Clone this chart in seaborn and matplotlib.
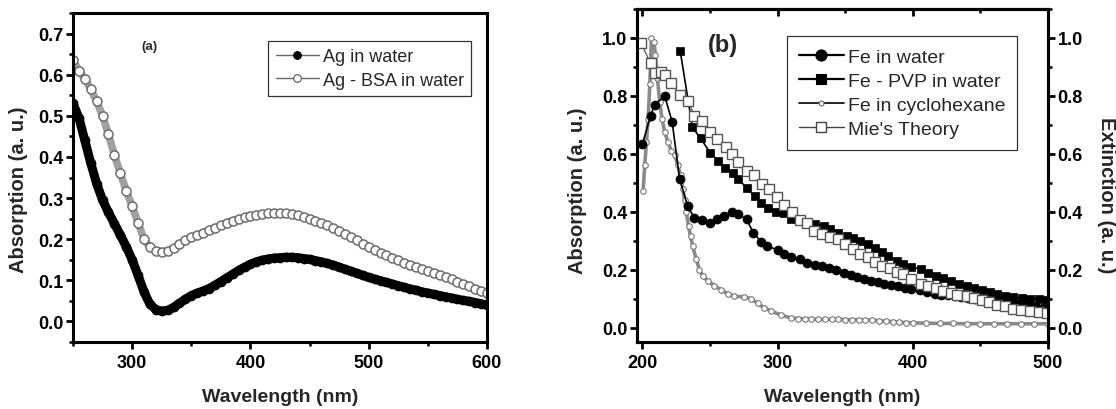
import numpy as np
import seaborn as sns
import matplotlib.pyplot as plt
from matplotlib.lines import Line2D
from matplotlib.ticker import MultipleLocator

# ---- panel (a): Ag spectra, read every 5 nm ----
ag_wl = np.arange(250, 601, 5)
ag_water = [0.530, 0.495, 0.440, 0.385, 0.335, 0.295, 0.265, 0.238, 0.210, 0.182,
            0.150, 0.112, 0.072, 0.042, 0.029, 0.025, 0.027, 0.034, 0.044, 0.054,
            0.063, 0.069, 0.074, 0.080, 0.088, 0.097, 0.106, 0.115, 0.124, 0.132,
            0.139, 0.145, 0.149, 0.152, 0.154, 0.155, 0.156, 0.156, 0.155, 0.153,
            0.151, 0.148, 0.145, 0.141, 0.137, 0.132, 0.127, 0.122, 0.117, 0.112,
            0.107, 0.103, 0.099, 0.095, 0.091, 0.087, 0.083, 0.079, 0.076, 0.072,
            0.069, 0.066, 0.063, 0.060, 0.057, 0.054, 0.051, 0.049, 0.046, 0.043,
            0.040]
ag_bsa = [0.635, 0.610, 0.590, 0.565, 0.535, 0.500, 0.455, 0.405, 0.360, 0.318,
          0.280, 0.240, 0.200, 0.180, 0.172, 0.170, 0.172, 0.178, 0.188, 0.198,
          0.205, 0.210, 0.216, 0.222, 0.228, 0.234, 0.240, 0.245, 0.249, 0.253,
          0.256, 0.259, 0.261, 0.263, 0.264, 0.264, 0.263, 0.261, 0.258, 0.254,
          0.250, 0.245, 0.240, 0.234, 0.228, 0.221, 0.213, 0.205, 0.197, 0.189,
          0.181, 0.174, 0.167, 0.161, 0.155, 0.149, 0.143, 0.138, 0.133, 0.128,
          0.123, 0.118, 0.113, 0.107, 0.102, 0.096, 0.091, 0.085, 0.080, 0.074,
          0.069]

# ---- panel (b): Fe spectra ----
fe_water_wl = [200, 206, 209, 216.5, 222, 227.5, 233.5, 238.5, 244, 250,
               255, 260.5, 266, 271, 277, 282, 288, 292.5, 300, 305,
               310, 316.5, 322, 327.5, 333, 338, 343, 349, 354, 359,
               364, 369, 374, 378.5, 384, 389, 394, 399, 405.5, 410.5,
               416.5, 421, 426, 431, 436, 441, 446, 451, 456, 461,
               466, 471, 476, 481, 486, 491, 496]
fe_water = [0.633, 0.731, 0.768, 0.800, 0.710, 0.514, 0.418, 0.379, 0.370, 0.362,
            0.376, 0.385, 0.399, 0.391, 0.374, 0.328, 0.295, 0.281, 0.268, 0.253,
            0.245, 0.235, 0.224, 0.216, 0.212, 0.206, 0.197, 0.189, 0.181, 0.174,
            0.168, 0.162, 0.157, 0.152, 0.147, 0.142, 0.137, 0.132, 0.128, 0.123,
            0.117, 0.114, 0.111, 0.108, 0.105, 0.102, 0.099, 0.096, 0.093, 0.090,
            0.087, 0.084, 0.081, 0.078, 0.075, 0.071, 0.068]

fe_pvp_wl = [228, 237, 243, 250, 256, 261, 267, 271, 277, 283,
             288, 293, 299, 305, 310, 316, 322, 328, 334, 339,
             345, 351, 356, 361, 367, 372, 377, 382, 388, 393,
             399, 406, 411, 417, 422, 428, 434, 440, 445, 451,
             457, 462, 468, 474, 481, 487, 493, 499]
fe_pvp = [0.954, 0.691, 0.654, 0.604, 0.576, 0.550, 0.533, 0.514, 0.481, 0.454,
          0.431, 0.414, 0.399, 0.397, 0.376, 0.370, 0.362, 0.356, 0.352, 0.340,
          0.325, 0.317, 0.309, 0.299, 0.288, 0.273, 0.260, 0.248, 0.231, 0.220,
          0.210, 0.201, 0.190, 0.178, 0.171, 0.162, 0.151, 0.142, 0.136, 0.130,
          0.122, 0.116, 0.108, 0.104, 0.102, 0.100, 0.097, 0.095]

fe_cyc_wl = [200.5, 201.7, 203, 204.2, 205.5, 206.7, 208.6, 209.6, 211.1, 212.8,
             214.5, 216.5, 218.9, 221.4, 223.8, 226.3, 228.2, 229.9, 231.2, 232.4,
             234.1, 235.6, 237.3, 239.8, 242.2, 244.7, 248.4, 253.3, 258.2, 263.2,
             268.1, 275.5, 280.4, 285.3, 290.2, 295.2, 302.5, 309.9, 315, 320,
             325, 330, 335, 340, 345, 350, 355, 360, 365, 370,
             375, 380, 385, 390, 395, 400, 410, 420, 430, 440,
             450, 460, 470, 480, 490, 500]
fe_cyc = [0.47, 0.56, 0.64, 0.72, 0.84, 1.00, 0.985, 0.94, 0.86, 0.78,
          0.72, 0.675, 0.64, 0.61, 0.595, 0.56, 0.525, 0.48, 0.44, 0.40,
          0.35, 0.315, 0.28, 0.235, 0.20, 0.178, 0.16, 0.145, 0.13, 0.116,
          0.108, 0.106, 0.099, 0.083, 0.068, 0.057, 0.043, 0.033, 0.031, 0.030,
          0.029, 0.028, 0.028, 0.028, 0.028, 0.027, 0.027, 0.026, 0.026, 0.025,
          0.024, 0.022, 0.020, 0.018, 0.017, 0.016, 0.015, 0.014, 0.014, 0.013,
          0.013, 0.013, 0.013, 0.013, 0.013, 0.013]

mie_wl = [199, 206, 209, 213.5, 217, 221.5, 228, 234, 238.5, 244,
          250, 255.5, 261.5, 266.5, 271, 277, 282.5, 288.5, 294, 299.5,
          305, 310.5, 316.5, 322, 327, 333, 339, 345, 350, 356,
          361, 367, 372, 377, 383, 388, 393, 399, 406, 411,
          417, 422, 428, 433, 440, 445, 451, 456, 462, 468,
          474, 480, 487, 493, 499]
mie = [0.983, 0.912, 0.879, 0.882, 0.872, 0.844, 0.803, 0.783, 0.731, 0.714,
       0.674, 0.651, 0.624, 0.599, 0.570, 0.541, 0.526, 0.495, 0.478, 0.451,
       0.422, 0.399, 0.370, 0.360, 0.333, 0.322, 0.313, 0.305, 0.288, 0.270,
       0.255, 0.244, 0.227, 0.212, 0.204, 0.193, 0.186, 0.168, 0.151, 0.143,
       0.137, 0.125, 0.119, 0.114, 0.108, 0.102, 0.096, 0.088, 0.079, 0.073,
       0.065, 0.061, 0.056, 0.053, 0.050]

sns.set_theme(style='ticks')
plt.rcParams['font.family'] = ['Liberation Sans', 'DejaVu Sans']
plt.rcParams['axes.edgecolor'] = 'black'
plt.rcParams['xtick.color'] = 'black'
plt.rcParams['ytick.color'] = 'black'


def style_axis(ax, lw=2.2):
    for sp in ax.spines.values():
        sp.set_visible(True)
        sp.set_linewidth(lw)
        sp.set_color('black')
    ax.tick_params(which='major', length=5, width=2, direction='out',
                   labelsize=13, pad=2)
    ax.tick_params(which='minor', length=3, width=1.8, direction='out')
    for lab in ax.get_xticklabels() + ax.get_yticklabels():
        lab.set_fontweight('bold')


def key(line_color, lw, marker, ms, mfc, mec, mew=0.8):
    # legend sample only: style, no data
    return Line2D([], [], color=line_color, linewidth=lw, marker=marker,
                  markersize=ms, markerfacecolor=mfc, markeredgecolor=mec,
                  markeredgewidth=mew)


fig = plt.figure(figsize=(11.16, 4.10), dpi=100)
ax1 = fig.add_axes([73 / 1116, 67 / 410, 414 / 1116, 329 / 410])
ax2 = fig.add_axes([637 / 1116, 67 / 410, 411 / 1116, 333 / 410])

# panel (a): dense markers drawn over a wide line so the trace reads as a band
sns.lineplot(x=ag_wl, y=ag_bsa, ax=ax1, color='#a0a0a0', linewidth=5.5,
             marker='o', markersize=6.5, markerfacecolor='white',
             markeredgecolor='#6e6e6e', markeredgewidth=1.1,
             legend=False, errorbar=None)
sns.lineplot(x=ag_wl, y=ag_water, ax=ax1, color='black', linewidth=6.5,
             marker='o', markersize=6.5, markerfacecolor='black',
             markeredgecolor='black', markeredgewidth=0.5,
             legend=False, errorbar=None)
ax1.set_xlim(250, 600)
ax1.set_ylim(-0.05, 0.75)
ax1.set_xticks([300, 400, 500, 600])
ax1.xaxis.set_minor_locator(MultipleLocator(50))
ax1.yaxis.set_major_locator(MultipleLocator(0.1))
ax1.yaxis.set_minor_locator(MultipleLocator(0.05))
ax1.yaxis.set_major_formatter(plt.FormatStrFormatter('%.1f'))
style_axis(ax1)
ax1.tick_params(axis='x', pad=4)
ax1.set_xlabel('Wavelength (nm)', fontsize=14, fontweight='bold', labelpad=12)
ax1.set_ylabel('Absorption (a. u.)', fontsize=14.5, fontweight='bold')
ax1.yaxis.set_label_coords(-0.109, 0.465)
ax1.text(0.184, 0.90, '(a)', transform=ax1.transAxes, fontsize=9.5,
         fontweight='bold', ha='center', va='center')
keys_a = [key('#666666', 1.0, 'o', 5.5, 'black', 'black'),
          key('#666666', 1.0, 'o', 5.5, 'white', '#555555')]
leg1 = ax1.legend(keys_a, ['Ag in water', 'Ag - BSA in water'],
                  loc='upper right', bbox_to_anchor=(0.961, 0.915),
                  fontsize=13, frameon=True, fancybox=False, framealpha=1,
                  edgecolor='#333333', handlelength=2.4, handletextpad=0.2,
                  labelspacing=0.35, borderpad=0.4, borderaxespad=0)
leg1.get_frame().set_linewidth(0.9)

# panel (b)
ax3 = ax2.twinx()
sns.lineplot(x=fe_cyc_wl, y=fe_cyc, ax=ax2, color='#8a8a8a', linewidth=2.6,
             marker='o', markersize=4, markerfacecolor='white',
             markeredgecolor='#777777', markeredgewidth=0.8,
             legend=False, errorbar=None)
sns.lineplot(x=fe_pvp_wl, y=fe_pvp, ax=ax2, color='black', linewidth=1.2,
             marker='s', markersize=6, markerfacecolor='black',
             markeredgecolor='black', markeredgewidth=0.5,
             legend=False, errorbar=None)
sns.lineplot(x=fe_water_wl, y=fe_water, ax=ax2, color='black', linewidth=1.2,
             marker='o', markersize=6.5, markerfacecolor='black',
             markeredgecolor='black', markeredgewidth=0.5,
             legend=False, errorbar=None)
sns.lineplot(x=mie_wl, y=mie, ax=ax3, color='#555555', linewidth=0.9,
             marker='s', markersize=6.5, markerfacecolor='white',
             markeredgecolor='#555555', markeredgewidth=1.0,
             legend=False, errorbar=None)

for ax in (ax2, ax3):
    ax.set_xlim(196, 500)
    ax.set_ylim(-0.05, 1.1)
    ax.yaxis.set_major_locator(MultipleLocator(0.2))
    ax.yaxis.set_minor_locator(MultipleLocator(0.1))
    ax.yaxis.set_major_formatter(plt.FormatStrFormatter('%.1f'))
ax2.set_xticks([200, 300, 400, 500])
ax2.xaxis.set_minor_locator(MultipleLocator(50))
style_axis(ax2)
style_axis(ax3)
ax2.tick_params(axis='x', pad=4)

# inward ticks along the top edge
top = ax2.secondary_xaxis('top')
top.set_xticks([200, 300, 400, 500])
top.xaxis.set_minor_locator(MultipleLocator(50))
top.tick_params(which='major', direction='in', length=5, width=2,
                labeltop=False)
top.tick_params(which='minor', direction='in', length=3, width=1.8)
top.spines['top'].set_linewidth(2.2)

ax2.set_xlabel('Wavelength (nm)', fontsize=14, fontweight='bold', labelpad=12)
ax2.set_ylabel('Absorption (a. u.)', fontsize=14.5, fontweight='bold')
ax2.yaxis.set_label_coords(-0.122, 0.456)
ax3.set_ylabel('Extinction (a. u.)', fontsize=14.5, fontweight='bold',
               rotation=270, va='bottom')
ax3.yaxis.set_label_coords(1.119, 0.444)
ax2.text(0.209, 0.892, '(b)', transform=ax2.transAxes, fontsize=17,
         fontweight='bold', ha='center', va='center')

keys_b = [key('black', 1.6, 'o', 8, 'black', 'black'),
          key('black', 1.6, 's', 7, 'black', 'black'),
          key('black', 1.2, 'o', 3.5, 'white', '#666666'),
          key('#444444', 1.0, 's', 7, 'white', '#444444', 1.0)]
leg2 = ax3.legend(keys_b, ['Fe in water', 'Fe - PVP in water',
                           'Fe in cyclohexane', "Mie's Theory"],
                  loc='upper right', bbox_to_anchor=(0.925, 0.919),
                  fontsize=14, frameon=True, fancybox=False, framealpha=1,
                  edgecolor='#333333', handlelength=2.3, handletextpad=0.2,
                  labelspacing=0.33, borderpad=0.62, borderaxespad=0)
leg2.get_frame().set_linewidth(0.9)

fig.savefig('out.png', dpi=100, facecolor='white')
